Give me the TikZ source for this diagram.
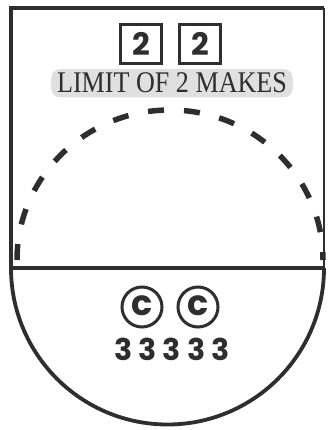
\documentclass[tikz,border=0pt]{standalone}
\usepackage{fontspec}
\setmainfont{Liberation Serif}
\newfontfamily\digfont{Poppins}
\newfontfamily\digspaced{Poppins}[LetterSpace=20]
\definecolor{ink}{HTML}{2E2E2E}
\begin{document}
\begin{tikzpicture}[x=1pt,y=-1pt]
\useasboundingbox (0,0) rectangle (327,430);
\fill[white] (0,0) rectangle (327,430);
\tikzset{
  wall/.style={draw=ink, line width=3.8pt},
  thinwall/.style={draw=ink, line width=1.8pt},
  numbox/.style={draw=ink, line width=3.2pt, minimum width=41pt, minimum height=39pt, inner sep=0pt, text=ink, font=\digfont\bfseries\fontsize{31}{31}\selectfont},
  cmark/.style={circle, draw=ink, line width=3pt, minimum size=40pt, inner sep=0pt, text=ink, font=\digfont\bfseries\fontsize{35}{35}\selectfont},
  dasharc/.style={draw=ink, line width=5.5pt, dash pattern=on 16pt off 20pt}
}
% outline
\draw[wall] (11,268) -- (11,8) -- (324,8);
\draw[thinwall] (324,8) -- (324,268);
\draw[wall] (11,268) -- (324,268);
\draw[wall] (11,268) arc[start angle=180, end angle=0, radius=156.5];
% dashed arc
\draw[dasharc] (17,260) arc[start angle=180, end angle=360, x radius=153, y radius=150];
% top boxes
\node[numbox] (b1) at (141,44) {2};
\node[numbox] (b2) at (200,44) {2};
% label
\node[fill=black!12, rounded corners=9pt, inner xsep=6pt, inner ysep=4pt, text=ink, anchor=base, font=\fontsize{30}{30}\selectfont] (lim) at (172,93) {\scalebox{0.87}[1]{LIMIT OF 2 MAKES}};
% circled c
\node[cmark] (c1) at (142,307) {\raisebox{2pt}{c}};
\node[cmark] (c2) at (198,307) {\raisebox{2pt}{c}};
% digits
\node[anchor=base, text=ink, inner sep=0pt, font=\digspaced\bfseries\fontsize{30}{30}\selectfont] (num) at (172,360) {33333};
\end{tikzpicture}
\end{document}
